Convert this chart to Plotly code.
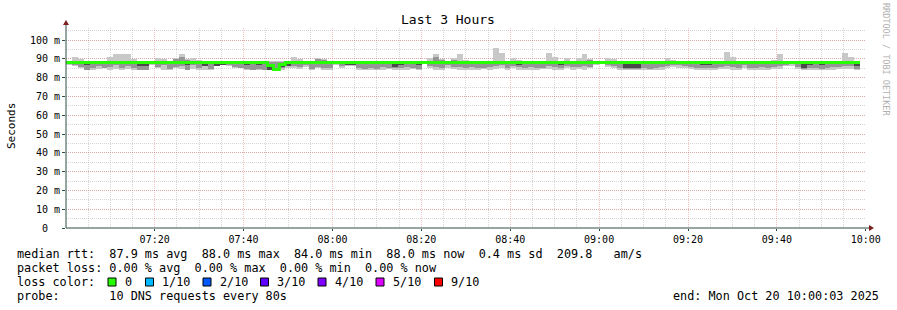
import plotly.graph_objects as go
import pandas as pd

# ---------------- data ----------------
START = "2025-10-20 07:00:03"
END = "2025-10-20 10:00:03"
STEP_S = 80

# median RTT per 80 s step (ms)
median = [88]*34 + [86.5, 84.3, 87.0] + [88]*97

# upper edge of smoke (max ping)
smoke_max = [
    89.0, 91.0, 90.0, 89.0, 88.5, 88.5, 88.5, 91.0, 92.5, 92.5,
    92.5, 90.0, 89.0, 89.0, 88.5, 90.5, 90.0, 88.5, 90.5, 92.5,
    90.0, 90.5, 89.5, 88.5, 88.5, 88.5, 88.5, 88.5, 89.0, 89.0,
    88.5, 88.5, 89.0, 88.5, 88.8, 88.8, 88.8, 89.0, 91.0, 90.0,
    88.5, 88.5, 90.5, 90.0, 88.5, 88.5, 89.0, 88.5, 88.5, 88.5,
    88.5, 88.5, 89.0, 88.5, 88.5, 88.5, 88.5, 88.5, 88.5, 88.5,
    88.5, 90.5, 92.5, 90.0, 89.0, 90.5, 92.5, 89.5, 88.5, 88.5,
    89.0, 88.5, 95.8, 93.0, 89.0, 90.5, 89.5, 88.5, 88.5, 88.5,
    88.5, 93.0, 91.0, 88.5, 90.5, 88.5, 90.5, 92.5, 90.0, 88.5,
    88.5, 90.5, 90.0, 88.5, 88.5, 88.5, 88.5, 88.5, 89.0, 88.5,
    88.5, 90.5, 89.5, 88.5, 88.5, 88.5, 88.5, 88.5, 88.5, 88.5,
    89.0, 93.5, 91.0, 88.5, 88.5, 88.5, 88.5, 88.5, 89.0, 89.5,
    92.5, 89.0, 88.5, 88.5, 88.5, 88.5, 88.5, 88.5, 88.5, 88.5,
    88.5, 93.0, 91.0, 88.5,
]
# upper edge of inner smoke band
inner_hi = [
    88.5, 88.5, 88.5, 88.5, 88.5, 88.5, 88.5, 88.5, 88.5, 88.5,
    88.5, 88.5, 88.5, 88.5, 88.5, 88.5, 88.5, 88.5, 90.0, 91.0,
    89.5, 88.5, 88.5, 88.5, 88.5, 88.5, 88.5, 88.5, 88.5, 88.5,
    88.5, 88.5, 88.5, 88.5, 88.5, 88.5, 88.5, 88.8, 88.5, 88.5,
    88.5, 88.5, 90.0, 89.5, 88.5, 88.5, 88.5, 88.5, 88.5, 88.5,
    88.5, 88.5, 88.5, 88.5, 88.5, 88.5, 88.5, 88.5, 88.5, 88.5,
    88.5, 88.5, 91.0, 89.5, 88.5, 89.5, 88.5, 88.5, 88.5, 88.5,
    88.5, 88.5, 88.5, 88.5, 88.5, 88.5, 88.5, 88.5, 88.5, 88.5,
    88.5, 88.5, 88.5, 88.5, 88.5, 88.5, 88.5, 88.5, 89.5, 88.5,
    88.5, 88.5, 88.5, 88.5, 88.5, 88.5, 88.5, 88.5, 88.5, 88.5,
    88.5, 88.5, 88.5, 88.5, 88.5, 88.5, 88.5, 88.5, 88.5, 88.5,
    88.5, 88.5, 88.5, 88.5, 88.5, 88.5, 88.5, 88.5, 88.5, 88.5,
    88.5, 88.5, 88.5, 88.5, 88.5, 88.5, 88.5, 88.5, 88.5, 88.5,
    88.5, 88.5, 88.5, 88.5,
]
# lower edge of inner smoke band
inner_lo = [
    87.0, 86.5, 85.5, 84.3, 85.0, 86.0, 85.0, 85.5, 86.5, 85.0,
    86.0, 85.0, 84.3, 84.3, 87.0, 85.5, 86.5, 84.5, 85.5, 86.0,
    84.3, 86.5, 85.0, 86.0, 84.5, 86.0, 87.0, 86.5, 85.5, 85.0,
    84.5, 84.3, 84.5, 84.3, 84.3, 84.3, 85.0, 86.0, 86.0, 85.5,
    86.5, 84.5, 85.5, 85.0, 85.0, 87.0, 86.0, 86.5, 86.5, 85.0,
    84.5, 85.0, 84.5, 85.5, 85.0, 85.0, 85.0, 85.5, 85.0, 84.5,
    87.5, 86.0, 85.5, 85.0, 86.5, 85.5, 85.5, 85.0, 85.5, 85.0,
    85.0, 85.5, 86.0, 86.5, 85.0, 86.0, 85.5, 85.0, 85.5, 85.0,
    85.0, 86.0, 85.5, 85.0, 86.0, 85.5, 85.5, 86.0, 85.5, 87.0,
    87.5, 86.5, 86.0, 85.0, 84.8, 84.8, 84.8, 85.0, 84.5, 85.0,
    85.5, 86.0, 86.5, 86.5, 86.0, 85.5, 85.0, 85.0, 85.0, 85.0,
    85.5, 86.0, 85.5, 85.0, 86.5, 85.0, 85.0, 85.5, 85.0, 85.5,
    86.0, 86.5, 87.0, 85.5, 84.8, 85.0, 85.0, 84.8, 85.0, 85.5,
    85.5, 86.0, 86.0, 84.8,
]
# lower edge of smoke (min ping)
smoke_min = [
    86.5, 86.0, 85.0, 84.3, 84.3, 84.5, 85.0, 84.3, 84.5, 84.3,
    84.5, 84.3, 84.3, 84.3, 86.5, 85.0, 84.3, 84.3, 85.0, 84.5,
    84.3, 84.5, 84.3, 84.3, 84.3, 86.0, 86.5, 86.0, 85.0, 85.0,
    84.3, 84.3, 84.3, 84.3, 84.3, 84.3, 84.3, 85.0, 85.0, 84.5,
    85.5, 84.3, 85.0, 84.3, 84.3, 86.5, 85.0, 86.0, 86.0, 84.3,
    84.3, 84.3, 84.3, 84.3, 84.5, 84.3, 84.3, 84.3, 84.5, 84.3,
    87.0, 85.0, 84.3, 84.3, 85.0, 84.5, 84.3, 84.3, 84.3, 84.3,
    84.5, 84.3, 84.5, 85.0, 84.3, 85.0, 84.3, 84.3, 84.3, 84.3,
    84.5, 84.5, 84.3, 84.3, 85.0, 84.3, 84.5, 84.3, 85.0, 86.5,
    87.0, 85.5, 85.0, 84.3, 84.3, 84.3, 84.3, 84.3, 84.3, 84.3,
    84.3, 85.0, 85.5, 85.0, 85.0, 84.5, 84.3, 84.3, 84.3, 84.3,
    84.5, 84.5, 84.3, 84.3, 85.0, 84.3, 84.3, 84.3, 84.3, 84.5,
    84.5, 86.0, 86.0, 84.5, 84.3, 84.3, 84.3, 84.3, 84.3, 84.3,
    84.5, 84.5, 84.5, 84.3,
]
# bottom of the dense (dark) smoke just under the median
dark_lo = [
    88, 88, 88, 86.5, 88, 88, 88, 88, 88, 88,
    88, 88, 86.0, 86.0, 88, 88, 88, 88, 88, 88,
    86.5, 88, 88, 86.0, 88, 86.0, 87.0, 88, 88, 88,
    87.0, 88, 86.5, 88, 84.3, 84.3, 85.5, 86.0, 88, 88,
    88, 88, 88, 88, 88, 88, 88, 87.0, 87.0, 88,
    88, 88, 88, 88, 88, 85.5, 86.5, 88, 88, 86.5,
    88, 88, 88, 88, 88, 88, 88, 88, 88, 88,
    88, 88, 88, 88, 88, 88, 86.5, 88, 88, 88,
    88, 88, 88, 86.5, 88, 88, 88, 88, 88, 88,
    88, 88, 88, 88, 85.0, 85.0, 85.0, 88, 88, 88,
    88, 88, 88, 88, 88, 88, 88, 86.5, 86.5, 88,
    88, 88, 88, 88, 88, 88, 88, 88, 88, 88,
    88, 88, 88, 88, 85.0, 86.5, 88, 86.5, 88, 88,
    88, 88, 88, 86.0,
]

y_tick_vals = [0, 10, 20, 30, 40, 50, 60, 70, 80, 90, 100]
y_tick_text = ["0\u00a0\u00a0", "10 m", "20 m", "30 m", "40 m", "50 m",
               "60 m", "70 m", "80 m", "90 m", "100 m"]

loss_labels = ["0", "1/10", "2/10", "3/10", "4/10", "5/10", "9/10"]
loss_colors = ["#26ff00", "#00b8ff", "#0059ff", "#5e00ff", "#7e00ff", "#dd00ff", "#ff0000"]

stat_line1 = "median rtt:  87.9 ms avg  88.0 ms max  84.0 ms min  88.0 ms now  0.4 ms sd  209.8   am/s"
stat_line2 = "packet loss: 0.00 % avg  0.00 % max  0.00 % min  0.00 % now"
probe_line = "probe:       10 DNS requests every 80s"
end_line = "end: Mon Oct 20 10:00:03 2025"

# ---------------- figure ----------------
W, H = 897, 310
PL, PR, PT, PB = 66, 866, 28, 228   # plot area in pixels


def fx(p):
    return (p - PL) / (PR - PL)


def fy(p):
    return (PB - p) / (PB - PT)


def nb(s):
    return s.replace(" ", "\u00a0")


n = len(median)
t_start = pd.Timestamp(START)
starts = [t_start + pd.Timedelta(seconds=STEP_S * k) for k in range(n)]
mids = [t + pd.Timedelta(seconds=STEP_S / 2) for t in starts]
bw = STEP_S * 1000

fig = go.Figure()


def band(lo, hi, color):
    fig.add_trace(go.Bar(
        x=mids, base=lo, y=[h - l for l, h in zip(lo, hi)], width=bw,
        marker=dict(color=color, line=dict(width=0)),
        hoverinfo="skip", showlegend=False))


band(smoke_min, smoke_max, "#c8c8c8")
band(inner_lo, inner_hi, "#969696")
band(dark_lo, median, "#4a4a4a")

fig.add_trace(go.Scatter(
    x=starts + [starts[-1] + pd.Timedelta(seconds=STEP_S)],
    y=median + [median[-1]],
    mode="lines", line=dict(color=loss_colors[0], width=3, shape="hv"),
    hoverinfo="skip", showlegend=False))

FONT = "DejaVu Sans Mono"
fig.update_layout(
    width=W, height=H,
    margin=dict(l=PL, r=W - PR, t=PT, b=H - PB, pad=0),
    paper_bgcolor="white", plot_bgcolor="white",
    barmode="overlay", bargap=0,
    font=dict(family=FONT, size=10, color="#000000"),
    showlegend=False,
)

MGRID = "rgba(222,80,80,0.35)"
GRID = "rgba(150,150,150,0.38)"
fig.update_xaxes(
    type="date", range=[START, END],
    tick0="2025-10-20 07:00:00", dtick=20 * 60 * 1000, tickformat="%H:%M",
    showgrid=True, gridcolor=MGRID, griddash="1px,1px", gridwidth=1,
    minor=dict(dtick=5 * 60 * 1000, tick0="2025-10-20 07:00:00", showgrid=True,
               gridcolor=GRID, griddash="1px,1px", gridwidth=1),
    ticks="outside", ticklen=2, tickcolor="#2c4d43",
    showline=False, zeroline=False,
    tickfont=dict(family=FONT, size=10),
)
fig.update_yaxes(
    range=[0, 106.4], tickvals=y_tick_vals, ticktext=y_tick_text,
    showgrid=True, gridcolor=MGRID, griddash="1px,1px", gridwidth=1,
    minor=dict(dtick=5, tick0=0, showgrid=True,
               gridcolor=GRID, griddash="1px,1px", gridwidth=1),
    ticks="outside", ticklen=3, tickcolor="#2c4d43",
    showline=False, zeroline=False,
    tickfont=dict(family=FONT, size=10),
)

shapes = []
# axes with arrows
shapes.append(dict(type="line", xref="paper", yref="paper",
                   x0=fx(PL), y0=fy(PB), x1=fx(871), y1=fy(PB),
                   line=dict(color="#2c4d43", width=1)))
shapes.append(dict(type="line", xref="paper", yref="paper",
                   x0=fx(PL), y0=fy(PB), x1=fx(PL), y1=fy(23),
                   line=dict(color="#2c4d43", width=1)))
shapes.append(dict(type="path", xref="paper", yref="paper",
                   path=f"M {fx(869)} {fy(225)} L {fx(874)} {fy(228)} L {fx(869)} {fy(231)} Z",
                   fillcolor="#7f1f1f", line=dict(width=0)))
shapes.append(dict(type="path", xref="paper", yref="paper",
                   path=f"M {fx(63)} {fy(25)} L {fx(66)} {fy(20)} L {fx(69)} {fy(25)} Z",
                   fillcolor="#7f1f1f", line=dict(width=0)))

annotations = []
# title
annotations.append(dict(text="Last 3 Hours", xref="paper", yref="paper",
                        x=fx(448), y=fy(19), xanchor="center", yanchor="middle",
                        showarrow=False, font=dict(family=FONT, size=13)))
# y title
annotations.append(dict(text="Seconds", xref="paper", yref="paper",
                        x=fx(11), y=fy(126), xanchor="center", yanchor="middle",
                        textangle=-90, showarrow=False, font=dict(family=FONT, size=11)))
# watermark
annotations.append(dict(text=nb("RRDTOOL / TOBI OETIKER"), xref="paper", yref="paper",
                        x=fx(886), y=fy(60), xanchor="center", yanchor="middle",
                        textangle=90, showarrow=False,
                        font=dict(family=FONT, size=8.5, color="#b0b0b0")))

LF = 11.8
rows_y = [254, 268, 282, 296]


def left_text(txt, x, y):
    annotations.append(dict(text=nb(txt), xref="paper", yref="paper",
                            x=fx(x), y=fy(y), xanchor="left", yanchor="middle",
                            showarrow=False, font=dict(family=FONT, size=LF)))


left_text(stat_line1, 15, rows_y[0])
left_text(stat_line2, 15, rows_y[1])
left_text("loss color:", 15, rows_y[2])
left_text(probe_line, 15, rows_y[3])
annotations.append(dict(text=nb(end_line), xref="paper", yref="paper",
                        x=fx(881), y=fy(rows_y[3]), xanchor="right", yanchor="middle",
                        showarrow=False, font=dict(family=FONT, size=LF)))

box_x = [108, 145.5, 203, 260.5, 318, 376, 434.5]
for bx, lab, col in zip(box_x, loss_labels, loss_colors):
    shapes.append(dict(type="rect", xref="paper", yref="paper",
                       x0=fx(bx), x1=fx(bx + 8), y0=fy(278), y1=fy(286),
                       fillcolor=col, line=dict(color="#000000", width=1)))
    left_text(lab, bx + 14.5, rows_y[2])

fig.update_layout(shapes=shapes, annotations=annotations)

fig.write_html("out.html")
